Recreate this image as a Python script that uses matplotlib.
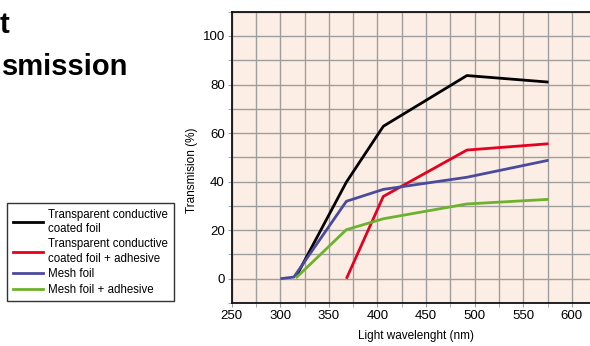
#!/usr/bin/env python3
# Light transmission vs wavelength for foil samples

import matplotlib.pyplot as plt
from matplotlib.lines import Line2D
from matplotlib.ticker import MultipleLocator

plt.rcParams["font.family"] = ["Liberation Sans", "DejaVu Sans"]

# Data
wl_black = [316, 368, 406, 492, 576]
tr_black = [0.7, 39.8, 62.8, 83.7, 81.0]

wl_red = [368, 406, 492, 576]
tr_red = [0.0, 33.9, 53.0, 55.6]

wl_blue = [300, 314, 368, 406, 492, 576]
tr_blue = [0.0, 0.7, 31.9, 36.8, 41.8, 48.8]

wl_green = [316, 368, 406, 492, 576]
tr_green = [0.3, 20.2, 24.7, 30.8, 32.7]

labels = ["Transparent conductive\ncoated foil",
          "Transparent conductive\ncoated foil + adhesive",
          "Mesh foil",
          "Mesh foil + adhesive"]
colors = ["#000000", "#e5001f", "#4b4b9e", "#6cb22e"]

W, H = 590, 346
fig = plt.figure(figsize=(W / 100, H / 100), dpi=100)
ax = fig.add_axes([231.7 / W, 1 - 303 / H, (601 - 231.7) / W, (303 - 11.7) / H])
ax.set_facecolor("#fdeee5")

series = [(wl_black, tr_black), (wl_red, tr_red), (wl_blue, tr_blue), (wl_green, tr_green)]
for (x, y), c in zip(series, colors):
    ax.plot(x, y, color=c, lw=2.0, solid_capstyle="butt", zorder=3)

ax.set_xlim(250, 630)
ax.set_ylim(-10, 110)
ax.xaxis.set_major_locator(MultipleLocator(50))
ax.xaxis.set_minor_locator(MultipleLocator(25))
ax.yaxis.set_minor_locator(MultipleLocator(10))
ax.set_yticks([0, 20, 40, 60, 80, 100])
ax.grid(which="both", color="#9e9e9e", lw=1.0, zorder=0)
ax.set_axisbelow(True)
ax.tick_params(which="both", direction="out", length=3, color="#9e9e9e", labelsize=9.5, pad=2)

for s in ["left", "bottom", "top"]:
    ax.spines[s].set_linewidth(1.3)
    ax.spines[s].set_color("#111111")

ax.set_xlabel("Light wavelenght (nm)", fontsize=8.5, labelpad=6)
ax.set_ylabel("Transmision (%)", fontsize=8.5)
ax.yaxis.set_label_coords(-0.091, 0.457)

# title, cut by the left edge in the reference: only the visible part
fig.text(9 / W, 1 - 33 / H, "t", ha="right", va="baseline", fontsize=21, fontweight="bold")
fig.text(128 / W, 1 - 75 / H, "smission", ha="right", va="baseline", fontsize=21, fontweight="bold")

handles = [Line2D([], [], color=c, lw=2.0) for c in colors]
leg = fig.legend(handles, labels, loc="upper left", bbox_to_anchor=(7 / W, 1 - 203 / H),
                 fontsize=8.3, frameon=True, fancybox=False, handlelength=2.6,
                 handletextpad=0.5, labelspacing=0.3, borderpad=0.5, borderaxespad=0)
for t in leg.get_texts():
    t.set_linespacing(1.25)
leg.get_frame().set_edgecolor("#000000")
leg.get_frame().set_linewidth(1.0)

fig.savefig("out.png", dpi=100)
